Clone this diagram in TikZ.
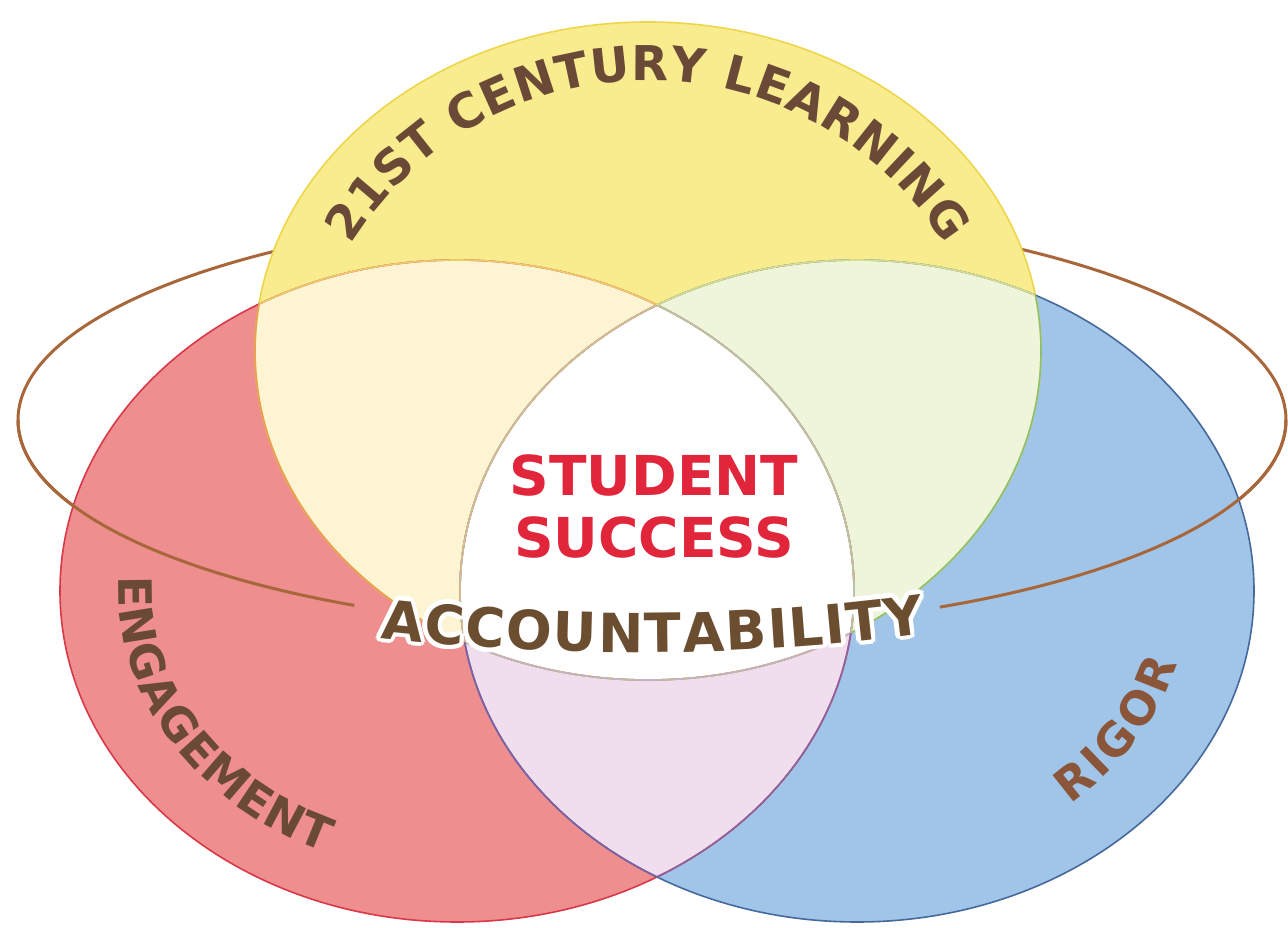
\documentclass[tikz,border=0pt]{standalone}
\usepackage{fontspec}
\setmainfont{DejaVu Sans}
\newfontfamily\lblfont{DejaVu Sans}
\usetikzlibrary{decorations.text}
\definecolor{yel}{HTML}{F9EC8F}
\definecolor{redc}{HTML}{EE8E8E}
\definecolor{bluc}{HTML}{A0C5E8}
\definecolor{cream}{HTML}{FCF4D2}
\definecolor{pgreen}{HTML}{EEF5DA}
\definecolor{lav}{HTML}{F0DEEE}
\definecolor{ringc}{HTML}{A8673A}
\definecolor{lblbrown}{HTML}{6A4A36}
\definecolor{rigbrown}{HTML}{8A5538}
\definecolor{accbrown}{HTML}{6B4E30}
\definecolor{ssred}{HTML}{E1253A}
\definecolor{yedge}{HTML}{EED64A}
\definecolor{redge}{HTML}{D83848}
\definecolor{bedge}{HTML}{46699C}
\tikzset{
  ringline/.style={draw=ringc, line width=3pt},
  edgeline/.style={line width=1.6pt},
}
\def\pathY{(648,576) ellipse [x radius=393pt, y radius=329pt]}
\def\pathR{(457,336) ellipse [x radius=397pt, y radius=331pt]}
\def\pathB{(857,336) ellipse [x radius=397pt, y radius=331pt]}
\def\pathO{(652,507) ellipse [x radius=634pt, y radius=210pt]}
\def\lblfmt{\lblfont\bfseries\fontsize{48}{48}\selectfont}
\def\sidefmt{\lblfont\bfseries\fontsize{46}{46}\selectfont}
\def\accfmt{\lblfont\bfseries\fontsize{54}{54}\selectfont}
\begin{document}
\begin{tikzpicture}[x=1pt,y=1pt]
\useasboundingbox (0,0) rectangle (1288,927);
\fill[white] (0,0) rectangle (1288,927);
% ring, back part
\draw[ringline] \pathO;
% base fills
\fill[yel] \pathY;
\fill[redc] \pathR;
\fill[bluc] \pathB;
\begin{scope}\clip \pathY; \fill[cream] \pathR; \end{scope}
\begin{scope}\clip \pathY; \fill[pgreen] \pathB; \end{scope}
\begin{scope}\clip \pathR; \fill[lav] \pathB; \end{scope}
\begin{scope}\clip \pathY; \clip \pathR; \fill[white] \pathB; \end{scope}
% outlines
\draw[edgeline, draw=yedge] \pathY;
\draw[edgeline, draw=redge] \pathR;
\draw[edgeline, draw=bedge] \pathB;
\begin{scope}\clip \pathR; \draw[edgeline, draw={rgb,255:red,232;green,160;blue,80}] \pathY; \end{scope}
\begin{scope}\clip \pathB; \draw[edgeline, draw={rgb,255:red,140;green,192;blue,112}] \pathY; \end{scope}
\begin{scope}\clip \pathR; \clip \pathB; \draw[edgeline, draw={rgb,255:red,200;green,176;blue,200}] \pathY; \end{scope}
\begin{scope}\clip \pathB; \draw[edgeline, draw={rgb,255:red,138;green,100;blue,160}] \pathR; \end{scope}
\begin{scope}\clip \pathY; \draw[edgeline, draw={rgb,255:red,235;green,203;blue,106}] \pathR; \end{scope}
\begin{scope}\clip \pathY; \clip \pathB; \draw[edgeline, draw={rgb,255:red,184;green,196;blue,168}] \pathR; \end{scope}
\begin{scope}\clip \pathR; \draw[edgeline, draw={rgb,255:red,128;green,96;blue,160}] \pathB; \end{scope}
\begin{scope}\clip \pathY; \draw[edgeline, draw={rgb,255:red,214;green,222;blue,140}] \pathB; \end{scope}
\begin{scope}\clip \pathY; \clip \pathR; \draw[edgeline, draw={rgb,255:red,216;green,184;blue,144}] \pathB; \end{scope}
% ring, front parts
\coordinate (ringL) at (18,507);
\coordinate (ringR) at (939.8,319.9);
\draw[ringline] (ringL) arc[start angle=180, end angle=242, x radius=634pt, y radius=210pt];
\draw[ringline] (ringR) arc[start angle=297, end angle=360, x radius=634pt, y radius=210pt];
% perimeter labels
\path[decorate, decoration={text along path, text={|\lblfmt|21ST CENTURY LEARNING}, text color=lblbrown, text align={fit to path}}]
  (351.2,682.2) arc[start angle=148, end angle=32, radius=350pt];
\path[decorate, decoration={text along path, text={|\sidefmt|ENGAGEMENT}, text color=lblbrown, text align={fit to path}}]
  (119.2,350.0) arc[start angle=177.5, end angle=247, x radius=338pt, y radius=285pt];
\path[decorate, decoration={text along path, text={|\sidefmt|RIGOR}, text color=rigbrown, text align={fit to path}}]
  (1069.8,122.9) arc[start angle=310, end angle=345, x radius=331pt, y radius=278pt];
% centre text
\node[font=\bfseries\fontsize{55}{62}\selectfont, text=ssred, align=center] (ss) at (654,421) {STUDENT\\SUCCESS};
% accountability with white halo
\foreach \a in {0,30,...,330}{
  \begin{scope}[shift={(\a:4.5)}]
  \path[decorate, decoration={text along path, text={|\accfmt|ACCOUNTABILITY}, text color=white, text align={fit to path}}]
    (380,289) .. controls (560,269) and (745,269) .. (925,294);
  \end{scope}
}
\path[decorate, decoration={text along path, text={|\accfmt|ACCOUNTABILITY}, text color=accbrown, text align={fit to path}}]
  (380,289) .. controls (560,269) and (745,269) .. (925,294);
\end{tikzpicture}
\end{document}
